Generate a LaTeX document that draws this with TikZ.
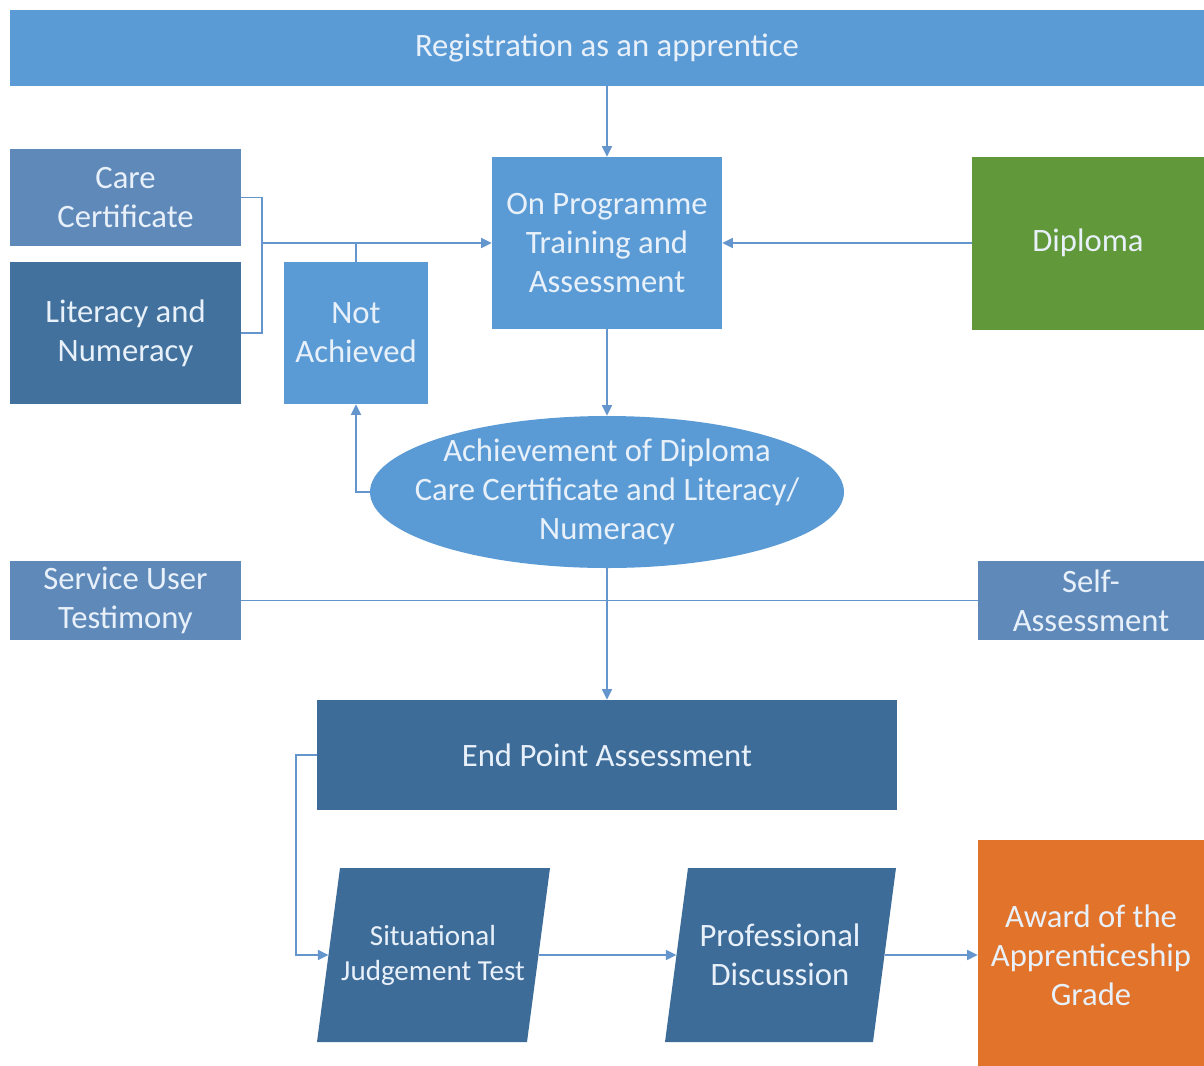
\documentclass[tikz,border=0pt]{standalone}
\usepackage{fontspec}
\setmainfont{Carlito}
\usetikzlibrary{arrows.meta,shapes.geometric}
\definecolor{lb}{RGB}{91,155,213}
\definecolor{sb}{RGB}{94,137,185}
\definecolor{db}{RGB}{65,113,156}
\definecolor{eb}{RGB}{62,108,152}
\definecolor{gr}{RGB}{96,152,58}
\definecolor{orng}{RGB}{226,115,42}
\definecolor{tx}{RGB}{232,240,250}
\definecolor{lc}{RGB}{100,150,205}
\begin{document}
\begin{tikzpicture}[x=0.75pt,y=-0.75pt,
  box/.style={inner sep=0pt, draw=none, text=tx, align=center,
    font=\fontsize{24.5}{29.25}\selectfont},
  ln/.style={draw=lc, line width=1.2pt},
  arr/.style={ln, -{Triangle[length=8pt,width=7.5pt]}}]
\useasboundingbox (0,0) rectangle (1204,1065);
\fill[white] (0,0) rectangle (1204,1065);

\node[box, fill=lb, minimum width=895.5pt, minimum height=57pt] (reg) at (607,48) {Registration as an apprentice};
\node[box, fill=lb, minimum width=172.5pt, minimum height=129pt] (onp) at (607,243) {On Programme\\Training and\\Assessment};
\node[box, fill=sb, minimum width=173.25pt, minimum height=72.75pt] (care) at (125.5,197.5) {Care\\Certificate};
\node[box, fill=db, minimum width=173.25pt, minimum height=106.5pt] (lit) at (125.5,333) {Literacy and\\Numeracy};
\node[box, fill=lb, minimum width=108pt, minimum height=106.5pt] (na) at (356,333) {Not\\Achieved};
\node[box, fill=gr, minimum width=174pt, minimum height=129.75pt] (dip) at (1088,243) {Diploma};
\node[ellipse, fill=lb, draw=none, inner sep=0pt, minimum width=355.5pt, minimum height=114pt,
  label={[box]center:Achievement of Diploma\\Care Certificate and Literacy/\\Numeracy}] (ach) at (607,492) {};
\node[box, fill=sb, minimum width=173.25pt, minimum height=59.25pt] (sut) at (125.5,600.5) {Service User\\Testimony};
\node[box, fill=sb, minimum width=169.5pt, minimum height=59.25pt] (sa) at (1091,600.5) {Self-\\Assessment};
\node[box, fill=eb, minimum width=435pt, minimum height=82.5pt] (epa) at (607,755) {End Point Assessment};
\node[box, fill=orng, minimum width=169.5pt, minimum height=172.5pt] (award) at (1091,955) {Award of the\\Apprenticeship\\Grade};

\fill[eb] (340,868) -- (550,868) -- (527,1042) -- (317,1042) -- cycle;
\node[box, font=\fontsize{21.8}{26.25}\selectfont] (sjt) at (433,955) {Situational\\Judgement Test};
\coordinate (sjtL) at (328.5,955);
\coordinate (sjtR) at (538.5,955);
\fill[eb] (688,868) -- (896,868) -- (873,1042) -- (665,1042) -- cycle;
\node[box] (pd) at (780,955) {Professional\\Discussion};
\coordinate (pdL) at (676.5,955);
\coordinate (pdR) at (884.5,955);

\draw[arr] (reg.south -| onp.north) -- (onp.north);
\draw[ln] (care.east) -- (262,197.5) -- (262,333) -- (lit.east);
\coordinate (br) at (262,243);
\draw[arr] (br) -- (onp.west);
\draw[ln] (na.north) -- (na.north |- br);
\draw[arr] (dip.west) -- (onp.east);
\draw[arr] (onp.south) -- (ach.north);
\draw[arr] (ach.west) -| (na.south);
\draw[ln] (sut.east) -- (sa.west);
\draw[arr] (ach.south) -- (epa.north);
\draw[arr] (epa.west) -- (296,755) |- (sjtL);
\draw[arr] (sjtR) -- (pdL);
\draw[arr] (pdR) -- (award.west);
\end{tikzpicture}
\end{document}
